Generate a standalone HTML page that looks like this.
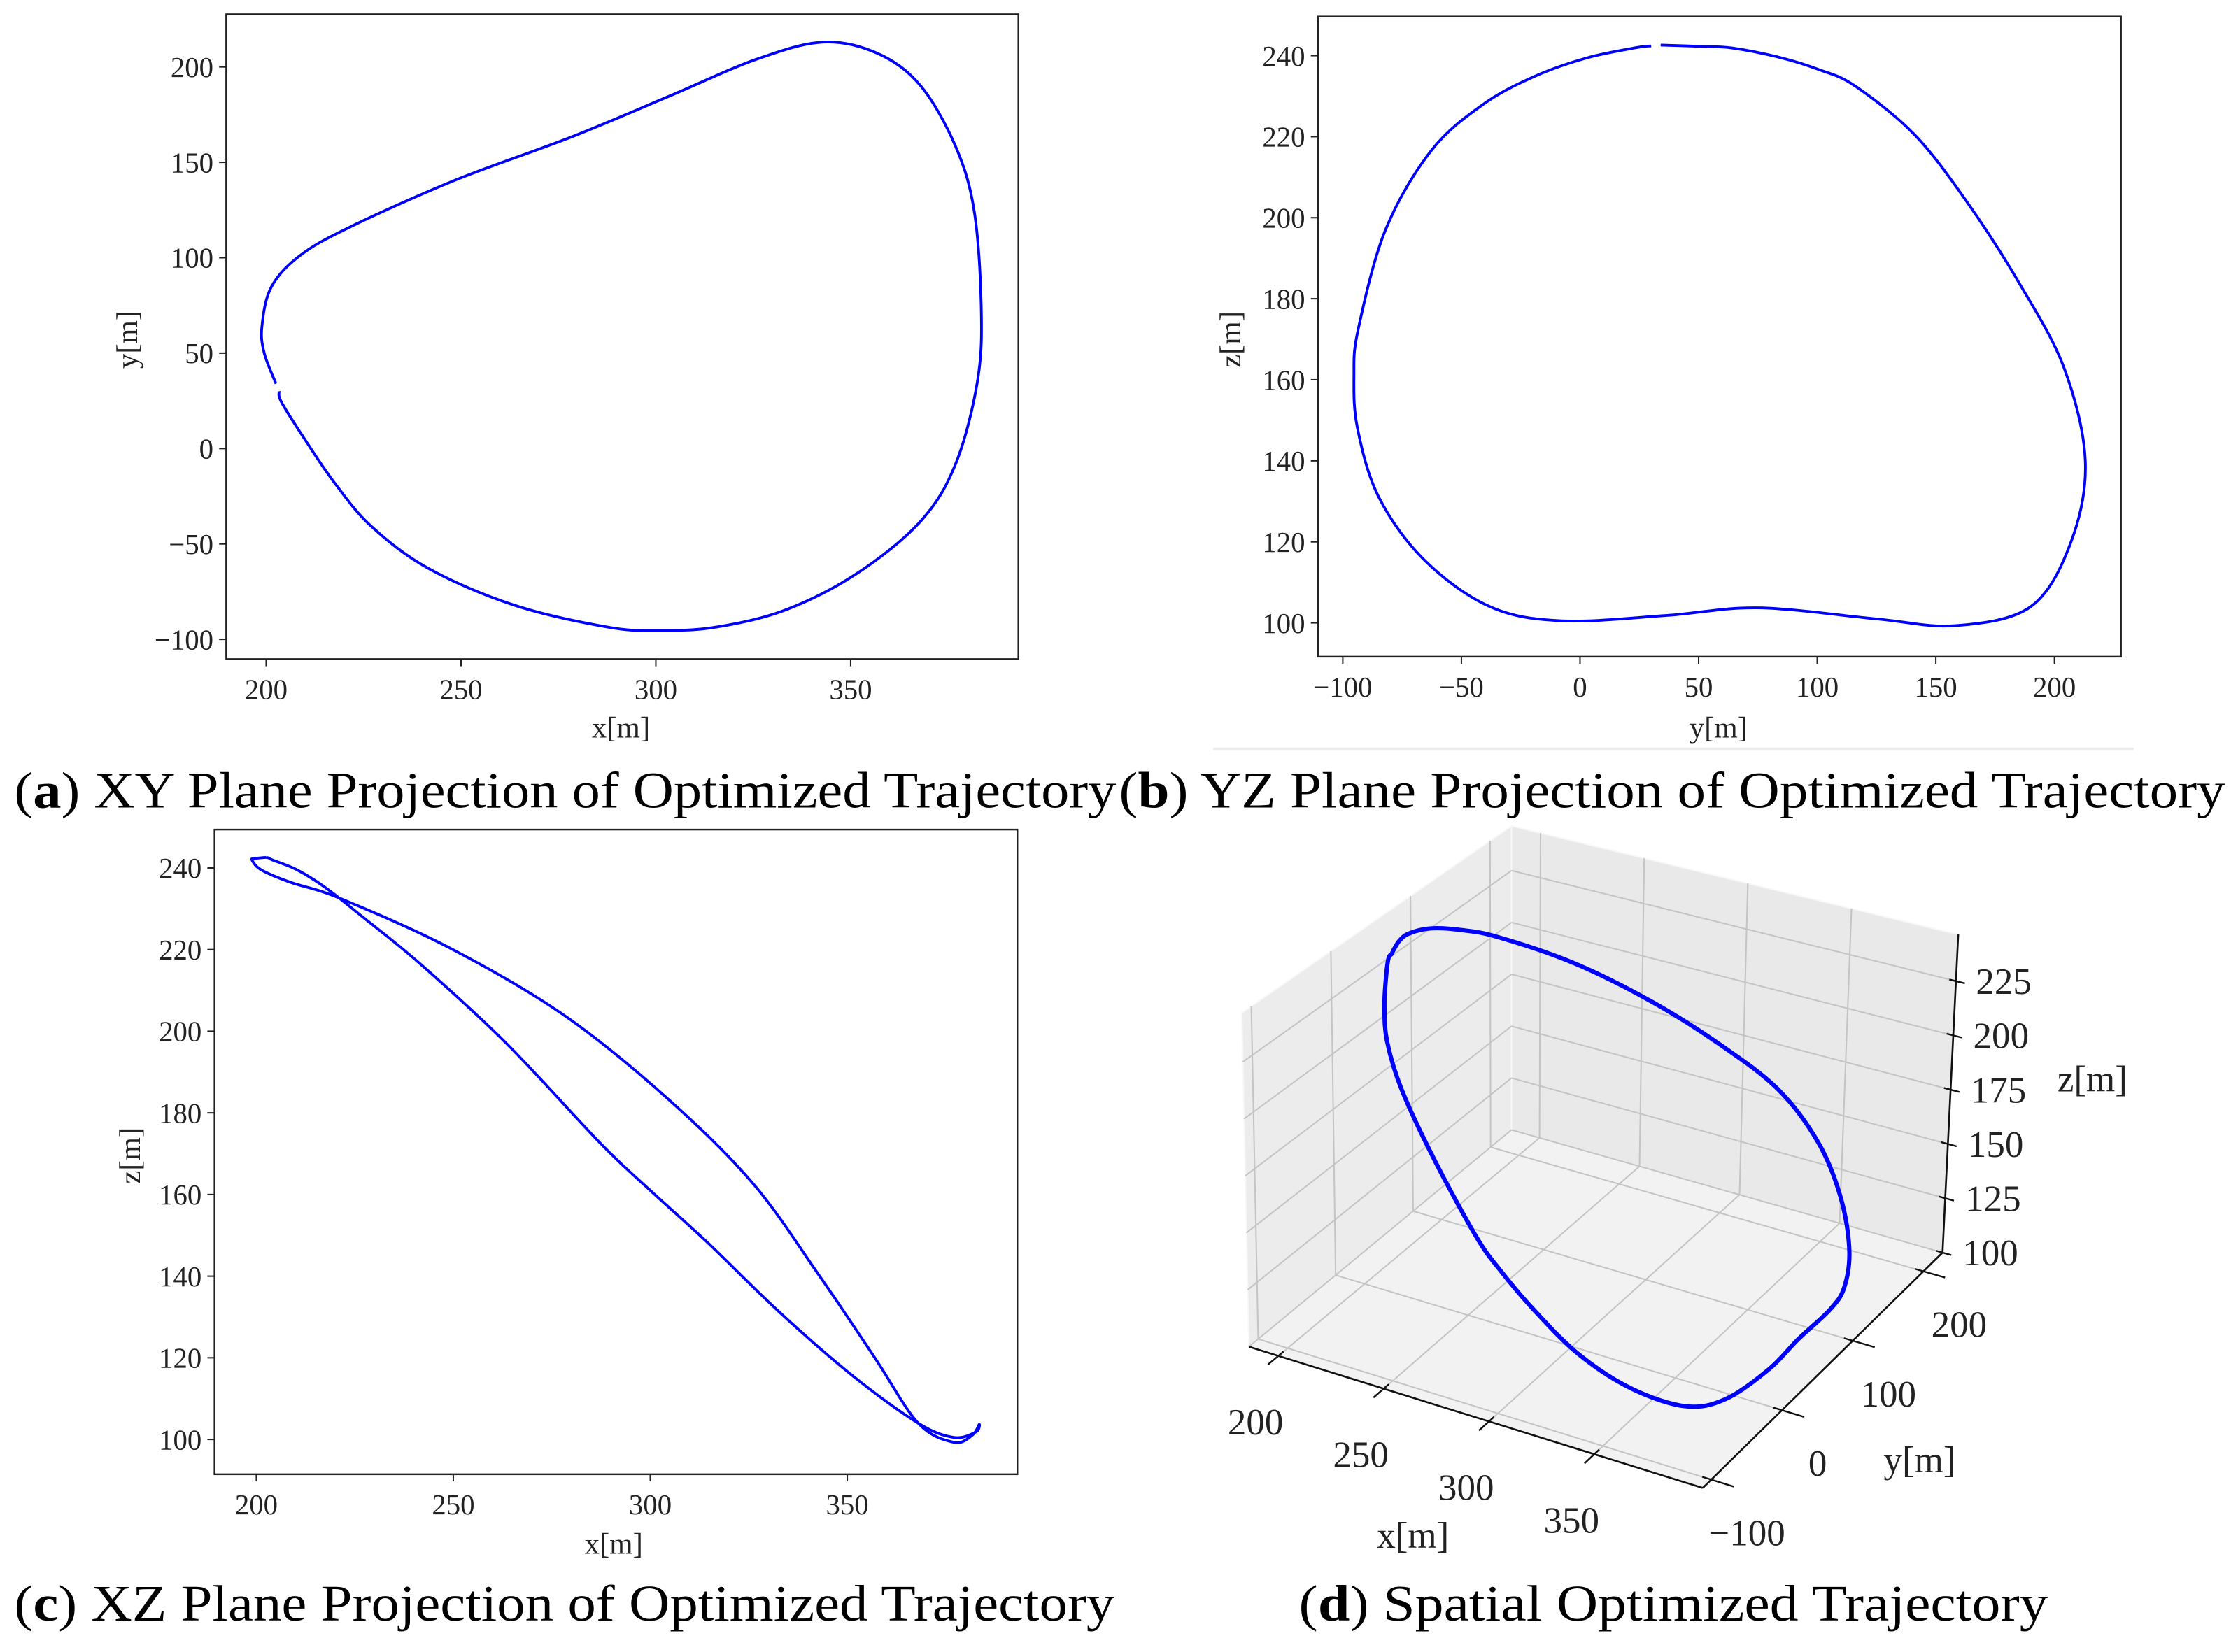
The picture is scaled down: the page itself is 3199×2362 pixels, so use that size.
<!DOCTYPE html>
<html><head><meta charset="utf-8"><style>
html,body{margin:0;padding:0;background:#fff;}
svg{display:block;}
.tk{font-family:"Liberation Serif","Noto Serif CJK SC",serif;font-size:20px;fill:#222;}
.tk3{font-family:"Liberation Serif","Noto Serif CJK SC",serif;font-size:26px;fill:#222;}
.lab{font-family:"Liberation Serif","Noto Serif CJK SC",serif;font-size:21px;fill:#222;}
.cap{font-family:"Liberation Serif","Noto Serif CJK SC",serif;font-size:36px;fill:#000;}
</style></head><body>
<svg id="fig" width="3199" height="2362" viewBox="0 0 1568 1158" preserveAspectRatio="none" xmlns="http://www.w3.org/2000/svg">
<rect x="0" y="0" width="1568" height="1158" fill="#fff"/>
<line x1="850" y1="525" x2="1495" y2="525" stroke="#ececec" stroke-width="2"/>
<text class="cap" x="10" y="566" textLength="772" lengthAdjust="spacingAndGlyphs">(<tspan font-weight="bold">a</tspan>) XY Plane Projection of Optimized Trajectory</text>
<text class="cap" x="784" y="566" textLength="775" lengthAdjust="spacingAndGlyphs">(<tspan font-weight="bold">b</tspan>) YZ Plane Projection of Optimized Trajectory</text>
<text class="cap" x="10" y="1136" textLength="771" lengthAdjust="spacingAndGlyphs">(<tspan font-weight="bold">c</tspan>) XZ Plane Projection of Optimized Trajectory</text>
<text class="cap" x="910" y="1136" textLength="525" lengthAdjust="spacingAndGlyphs">(<tspan font-weight="bold">d</tspan>) Spatial Optimized Trajectory</text>
<g id="gA"></g>
<g id="gB"></g>
<g id="gC"></g>
<g id="gD"></g>
</svg>
<script>
// Trajectory samples (x, y, z in metres), ordered along the path
const trajX = [202.5,199.5,198.9,201.3,208.6,221.4,248.9,278,303.8,325.8,343,357,368,377,381.7,383.5,382.6,377,368,351.5,333,314.8,300,287.4,263.5,241.6,227,217.8,210.4,204,203.3];
const trajY = [34,50,64,84.6,101,116,141,163,185,204,213,207,190,158,124.5,75,36,-7.7,-38,-65.6,-84.8,-93.8,-95.3,-93.5,-82,-62.8,-40.8,-18.7,3.3,24,30];
const trajZ = [242.6,242.3,241.9,239.5,236.5,232.5,220.5,204,184,163,140,120,104,99.3,101,103.7,101.8,100.5,104,115.5,131,148,161,172.5,197,216.5,228,235,239.5,242,242.4];
const xTicks = [200,250,300,350];
const yTicksA = [-100,-50,0,50,100,150,200];
const yTicksB = [-100,-50,0,50,100,150,200];
const zTicks = [100,120,140,160,180,200,220,240];
const xTicks3 = [200,250,300,350];
const yTicks3 = [-100,0,100,200];
const zTicks3 = [100,125,150,175,200,225];

const NS="http://www.w3.org/2000/svg";
function mk(parent, tag, attrs){const e=document.createElementNS(NS,tag);for(const k in attrs)e.setAttribute(k,attrs[k]);parent.appendChild(e);return e;}
function fmt(v){return v<0?"\u2212"+Math.abs(v):String(v);}
function smoothPath(pts){
  let d="M"+pts[0][0].toFixed(2)+","+pts[0][1].toFixed(2);
  for(let i=0;i<pts.length-1;i++){
    const p0=pts[Math.max(0,i-1)],p1=pts[i],p2=pts[i+1],p3=pts[Math.min(pts.length-1,i+2)];
    const c1=[p1[0]+(p2[0]-p0[0])/6,p1[1]+(p2[1]-p0[1])/6];
    const c2=[p2[0]-(p3[0]-p1[0])/6,p2[1]-(p3[1]-p1[1])/6];
    d+=" C"+c1[0].toFixed(2)+","+c1[1].toFixed(2)+" "+c2[0].toFixed(2)+","+c2[1].toFixed(2)+" "+p2[0].toFixed(2)+","+p2[1].toFixed(2);
  }
  return d;
}
function panel2D(g, box, sx, sy, xt, yt, xs, ys, xl, yl, xlp, ylp, closed){
  const r=mk(g,"rect",{x:box[0],y:box[1],width:box[2]-box[0],height:box[3]-box[1],fill:"none",stroke:"#222","stroke-width":1.2});
  
  
  xt.forEach(v=>{const X=sx(v);
    const t=mk(g,"line",{x1:X,y1:box[3],x2:X,y2:box[3]+5,stroke:"#222","stroke-width":1});
    
    
    const l=mk(g,"text",{x:X,y:box[3]+28,"text-anchor":"middle",class:"tk"});l.textContent=fmt(v);
    
    
  });
  yt.forEach(v=>{const Y=sy(v);
    const t=mk(g,"line",{x1:box[0]-5,y1:Y,x2:box[0],y2:Y,stroke:"#222","stroke-width":1});
    
    
    const l=mk(g,"text",{x:box[0]-9,y:Y+7,"text-anchor":"end",class:"tk"});l.textContent=fmt(v);
    
    
  });
  const pts=xs.map((v,i)=>[sx(v),sy(ys[i])]);
  if(closed) pts.push(pts[0]);
  const p=mk(g,"path",{d:smoothPath(pts),fill:"none",stroke:"#0000ff","stroke-width":1.9,"stroke-linejoin":"round"});
  
  
  const a=mk(g,"text",{x:xlp[0],y:xlp[1],"text-anchor":"middle",class:"lab"});a.textContent=xl;
  
  
  const b=mk(g,"text",{x:ylp[0],y:ylp[1],"text-anchor":"middle",class:"lab",transform:"rotate(-90 "+ylp[0]+" "+ylp[1]+")"});b.textContent=yl;
  
  
}
// Panel A: XY
panel2D(document.getElementById("gA"),[158.5,10,713.5,462],
  x=>186.5+(x-200)*(596-186.5)/150, y=>314.4-y*(314.4-46.9)/200,
  xTicks,yTicksA,trajX,trajY,"x[m]","y[m]",[435,517],[96,238],false);
// Panel B: YZ
panel2D(document.getElementById("gB"),[923.4,11.6,1486,460.3],
  y=>1107+y*(1439.4-1107)/200, z=>436.6-(z-100)*(436.6-39)/140,
  yTicksB,zTicks,trajY,trajZ,"y[m]","z[m]",[1204,517],[869,238],false);
// Panel C: XZ
panel2D(document.getElementById("gC"),[150.3,581.5,712.8,1033.4],
  x=>179.6+(x-200)*(593.6-179.6)/150, z=>1009-(z-100)*(1009-608.4)/140,
  xTicks,zTicks,trajX,trajZ,"x[m]","z[m]",[430,1089],[98,810],true);

// Panel D: 3D
(function(){
  const g=document.getElementById("gD");
  const C={"000":[875,944],"100":[1193,1043],"010":[1059,792],"110":[1361,878],
           "001":[870,710],"101":[1198,810],"011":[1059,579],"111":[1372,655]};
  function P(u,v,w){
    const L=(a,b,t)=>[a[0]+(b[0]-a[0])*t,a[1]+(b[1]-a[1])*t];
    const b0=L(L(C["000"],C["100"],u),L(C["010"],C["110"],u),v);
    const b1=L(L(C["001"],C["101"],u),L(C["011"],C["111"],u),v);
    return L(b0,b1,w);
  }
  const U=x=>(x-186)/215.5, V=y=>(y+112)/339, W=z=>(z-100)/146.5;
  function poly(pts,fill,name){const e=mk(g,"polygon",{points:pts.map(p=>p.join(",")).join(" "),fill:fill,stroke:"#f8f8f8","stroke-width":1});
    
    }
  poly([P(0,0,0),P(1,0,0),P(1,1,0),P(0,1,0)],"#f2f2f2","floor-pane");
  poly([P(0,0,0),P(0,1,0),P(0,1,1),P(0,0,1)],"#ececec","left-pane");
  poly([P(0,1,0),P(1,1,0),P(1,1,1),P(0,1,1)],"#e9e9e9","back-pane");
  function gl(a,b){const e=mk(g,"line",{x1:a[0],y1:a[1],x2:b[0],y2:b[1],stroke:"#c4c4c4","stroke-width":1});
    
    }
  xTicks3.forEach(x=>{const u=U(x);gl(P(u,0,0),P(u,1,0));gl(P(u,1,0),P(u,1,1));});
  yTicks3.forEach(y=>{const v=V(y);gl(P(0,v,0),P(1,v,0));gl(P(0,v,0),P(0,v,1));});
  zTicks3.forEach(z=>{const w=W(z);gl(P(0,0,w),P(0,1,w));gl(P(0,1,w),P(1,1,w));});
  function al(a,b,name,wd){const e=mk(g,"line",{x1:a[0],y1:a[1],x2:b[0],y2:b[1],stroke:"#111","stroke-width":wd||1.3});
    
    }
  al(P(0,0,0),P(1,0,0),"x-axis-line");
  al(P(1,0,0),P(1,1,0),"y-axis-line");
  al(P(1,1,0),P(1,1,1),"z-axis-line");
  function tl(x,y,txt,anchor,name){const e=mk(g,"text",{x:x,y:y,"text-anchor":anchor,class:"tk3"});e.textContent=txt;
    
    }
  xTicks3.forEach(x=>{const u=U(x);al(P(u,0.02,0),P(u,-0.04,0),"x-tick",1.2);const p=P(u,0,0);tl(p[0]-16,p[1]+55,fmt(x),"middle","x-tick-label");});
  yTicks3.forEach(y=>{const v=V(y);al(P(0.98,v,0),P(1.05,v,0),"y-tick",1.2);const p=P(1,v,0);tl(p[0]+25,p[1]+46,fmt(y),"middle","y-tick-label");});
  zTicks3.forEach(z=>{const w=W(z);al(P(0.985,1,w),P(1.02,1,w),"z-tick",1.2);const p=P(1,1,w);tl(p[0]+14,p[1]+9,fmt(z),"start","z-tick-label");});
  tl(990,1085,"x[m]","middle","x-axis-title");
  tl(1345,1032,"y[m]","middle","y-axis-title");
  tl(1466,765,"z[m]","middle","z-axis-title");
  const pts=trajX.map((x,i)=>P(U(x),V(trajY[i]),W(trajZ[i])));
  pts.push(pts[0]);
  const e=mk(g,"path",{d:smoothPath(pts),fill:"none",stroke:"#0000ff","stroke-width":3,"stroke-linejoin":"round"});
  
  
})();
</script>
</body></html>
